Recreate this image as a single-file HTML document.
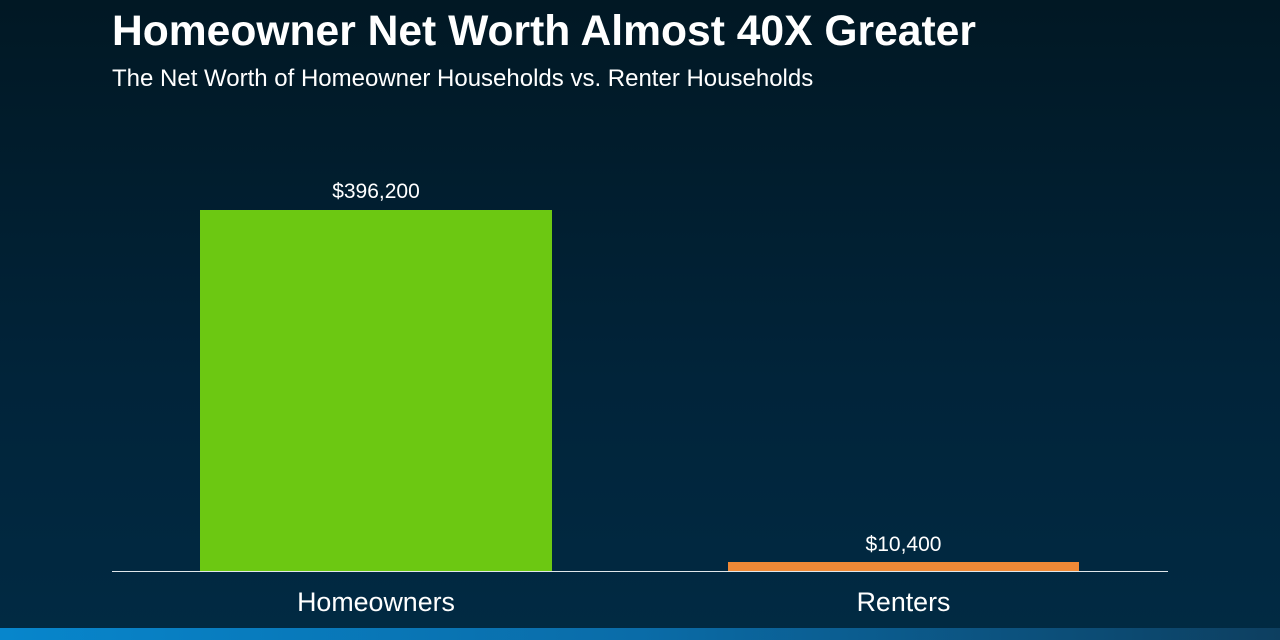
<!DOCTYPE html>
<html><head><style>
body{margin:0;width:1280px;height:640px;overflow:hidden;font-family:"Liberation Sans",Arial,sans-serif;color:#fff;}
#bg{position:absolute;left:0;top:0;width:1280px;height:640px;background:linear-gradient(180deg,#011824 0%,#01243a 60%,#012a43 100%);}
.t{position:absolute;white-space:nowrap;}
</style></head><body><div id="bg"></div>
<div class="t" style="left:112px;top:7px;font-size:42.6px;font-weight:bold;">Homeowner Net Worth Almost 40X Greater</div>
<div class="t" style="left:112px;top:65px;font-size:24px;">The Net Worth of Homeowner Households vs. Renter Households</div>
<div style="position:absolute;left:200px;top:210px;width:352px;height:361px;background:#6cc812"></div>
<div style="position:absolute;left:728px;top:562px;width:351px;height:9px;background:#ee8936"></div>
<div style="position:absolute;left:112px;top:571px;width:1056px;height:1px;background:#e0e6ea"></div>
<div class="t" style="left:200px;width:352px;text-align:center;top:180px;font-size:21px;">$396,200</div>
<div class="t" style="left:728px;width:351px;text-align:center;top:533px;font-size:21px;">$10,400</div>
<div class="t" style="left:200px;width:352px;text-align:center;top:587px;font-size:26.8px;">Homeowners</div>
<div class="t" style="left:728px;width:351px;text-align:center;top:587px;font-size:26.8px;">Renters</div>
<div style="position:absolute;left:0;top:628px;width:1280px;height:12px;background:linear-gradient(90deg,#0786cc 0%,#0a6ca8 50%,#0d3f60 100%)"></div>
</body></html>
